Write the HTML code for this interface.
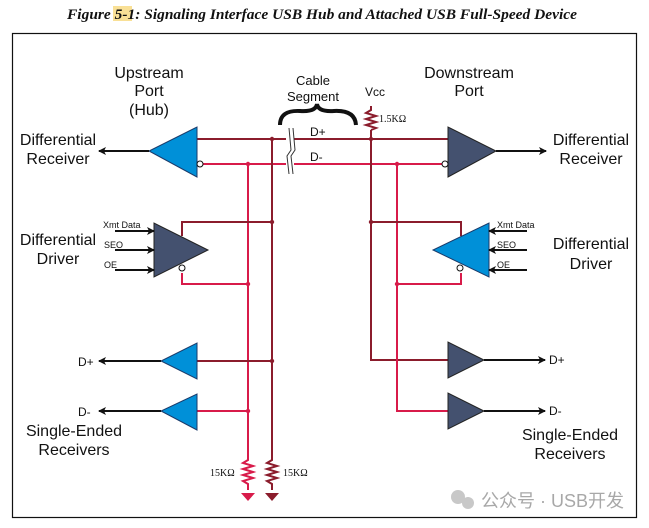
<!DOCTYPE html>
<html><head><meta charset="utf-8"><style>
html,body{margin:0;padding:0;background:#fff;}
svg{display:block;}
text{font-family:"Liberation Sans",sans-serif;fill:#111;}
</style></head><body>
<svg width="649" height="528" viewBox="0 0 649 528" xmlns="http://www.w3.org/2000/svg">
<defs>
<marker id="ah" markerWidth="8" markerHeight="8" refX="7" refY="4" orient="auto" markerUnits="userSpaceOnUse"><path d="M0,0 L8,4 L0,8 L2,4 Z" fill="#111"/></marker>
</defs>
<rect x="113" y="6" width="19" height="15" fill="#f6d36a" opacity="0.7"/>
<text x="322" y="19" text-anchor="middle" textLength="510" lengthAdjust="spacingAndGlyphs" style="font-family:'Liberation Serif',serif;font-style:italic;font-weight:bold;font-size:15px;fill:#111">Figure 5-1: Signaling Interface USB Hub and Attached USB Full-Speed Device</text>
<rect x="12.5" y="33.5" width="624" height="484" fill="none" stroke="#111" stroke-width="1.2"/>

<!-- wires -->
<g fill="none" stroke-width="2">
<path d="M197 139 H448" stroke="#8b1c2c"/>
<path d="M203 164 H443" stroke="#d81b4a"/>
<path d="M272 139 V457" stroke="#8b1c2c"/>
<path d="M248 164 V457" stroke="#d81b4a"/>
<path d="M371 130 V360 H448" stroke="#8b1c2c"/>
<path d="M397 164 V411 H448" stroke="#d81b4a"/>
<path d="M182 236 V222 H272" stroke="#8b1c2c"/>
<path d="M182 273 V284 H248" stroke="#d81b4a"/>
<path d="M461 236 V222 H371" stroke="#8b1c2c"/>
<path d="M461 273 V284 H397" stroke="#d81b4a"/>
<path d="M197 361 H272" stroke="#8b1c2c"/>
<path d="M197 411 H248" stroke="#d81b4a"/>
</g>
<!-- dots -->
<g>
<circle cx="272" cy="139" r="2.2" fill="#8b1c2c"/><circle cx="371" cy="139" r="2.2" fill="#8b1c2c"/>
<circle cx="248" cy="164" r="2.2" fill="#d81b4a"/><circle cx="397" cy="164" r="2.2" fill="#d81b4a"/>
<circle cx="272" cy="222" r="2.2" fill="#8b1c2c"/><circle cx="371" cy="222" r="2.2" fill="#8b1c2c"/>
<circle cx="248" cy="284" r="2.2" fill="#d81b4a"/><circle cx="397" cy="284" r="2.2" fill="#d81b4a"/>
<circle cx="272" cy="361" r="2.2" fill="#8b1c2c"/><circle cx="248" cy="411" r="2.2" fill="#d81b4a"/>
</g>
<!-- cable break -->
<rect x="286" y="128" width="8" height="46" fill="#fff"/>
<path d="M289 128 L291 150 L287 156 L289 174 M293 128 L295 150 L291 156 L293 174" stroke="#333" fill="none" stroke-width="1"/>
<!-- brace -->
<path d="M280 125 Q280 110 300 111 Q316 112 317 104 Q318 112 334 111 Q355 110 356 125" fill="none" stroke="#111" stroke-width="4"/>
<!-- vcc resistor -->
<path d="M371 106 L371 110 L366 113 L376 116 L366 119 L376 122 L366 125 L376 128 L371 130" fill="none" stroke="#8b1c2c" stroke-width="2"/>
<text x="365" y="96" font-size="12">Vcc</text>
<text x="379" y="122" style="font-family:'Liberation Serif',serif;font-size:10px">1.5KΩ</text>
<text x="313" y="85" font-size="13" text-anchor="middle">Cable</text>
<text x="313" y="101" font-size="13" text-anchor="middle">Segment</text>
<text x="310" y="136" font-size="12">D+</text>
<text x="310" y="161" font-size="12">D-</text>

<!-- upstream receiver -->
<polygon points="197,127 197,177 149,151" fill="#0090d8" stroke="#1a3a6a" stroke-width="1"/>
<circle cx="200" cy="164" r="3" fill="#fff" stroke="#111"/>
<line x1="149" y1="151" x2="99" y2="151" stroke="#111" stroke-width="2" marker-end="url(#ah)"/>
<!-- downstream receiver -->
<polygon points="448,127 448,177 496,151" fill="#44516f" stroke="#222" stroke-width="1"/>
<circle cx="445" cy="164" r="3" fill="#fff" stroke="#111"/>
<line x1="496" y1="151" x2="546" y2="151" stroke="#111" stroke-width="2" marker-end="url(#ah)"/>

<!-- left driver -->
<polygon points="154,223 154,277 208,250" fill="#44516f" stroke="#222" stroke-width="1"/>
<circle cx="182" cy="268" r="3" fill="#fff" stroke="#111"/>
<g stroke="#111" stroke-width="2">
<line x1="115" y1="231" x2="154" y2="231" marker-end="url(#ah)"/>
<line x1="115" y1="250" x2="154" y2="250" marker-end="url(#ah)"/>
<line x1="115" y1="270" x2="154" y2="270" marker-end="url(#ah)"/>
</g>
<text x="103" y="228" font-size="9">Xmt Data</text>
<text x="104" y="248" font-size="9">SEO</text>
<text x="104" y="268" font-size="9">OE</text>
<!-- right driver -->
<polygon points="489,223 489,277 433,250" fill="#0090d8" stroke="#1a3a6a" stroke-width="1"/>
<circle cx="460" cy="268" r="3" fill="#fff" stroke="#111"/>
<g stroke="#111" stroke-width="2">
<line x1="527" y1="231" x2="489" y2="231" marker-end="url(#ah)"/>
<line x1="527" y1="250" x2="489" y2="250" marker-end="url(#ah)"/>
<line x1="527" y1="270" x2="489" y2="270" marker-end="url(#ah)"/>
</g>
<text x="497" y="228" font-size="9">Xmt Data</text>
<text x="497" y="248" font-size="9">SEO</text>
<text x="497" y="268" font-size="9">OE</text>

<!-- single-ended left -->
<polygon points="197,343 197,379 161,361" fill="#0090d8" stroke="#1a3a6a" stroke-width="1"/>
<polygon points="197,394 197,430 161,411" fill="#0090d8" stroke="#1a3a6a" stroke-width="1"/>
<line x1="161" y1="361" x2="99" y2="361" stroke="#111" stroke-width="2" marker-end="url(#ah)"/>
<line x1="161" y1="411" x2="99" y2="411" stroke="#111" stroke-width="2" marker-end="url(#ah)"/>
<text x="78" y="366" font-size="12">D+</text>
<text x="78" y="416" font-size="12">D-</text>
<!-- single-ended right -->
<polygon points="448,342 448,378 484,360" fill="#44516f" stroke="#222" stroke-width="1"/>
<polygon points="448,393 448,429 484,411" fill="#44516f" stroke="#222" stroke-width="1"/>
<line x1="484" y1="360" x2="545" y2="360" stroke="#111" stroke-width="2" marker-end="url(#ah)"/>
<line x1="484" y1="411" x2="545" y2="411" stroke="#111" stroke-width="2" marker-end="url(#ah)"/>
<text x="549" y="364" font-size="12">D+</text>
<text x="549" y="415" font-size="12">D-</text>

<!-- pull-down resistors -->
<path d="M248 457 L248 460 L243 463 L253 466 L243 469 L253 472 L243 475 L253 478 L243 481 L248 484 L248 490" fill="none" stroke="#d81b4a" stroke-width="2"/>
<path d="M272 457 L272 460 L267 463 L277 466 L267 469 L277 472 L267 475 L277 478 L267 481 L272 484 L272 490" fill="none" stroke="#8b1c2c" stroke-width="2"/>
<polygon points="241,493 255,493 248,501" fill="#d81b4a"/>
<polygon points="265,493 279,493 272,501" fill="#8b1c2c"/>
<text x="210" y="476" style="font-family:'Liberation Serif',serif;font-size:10px">15KΩ</text>
<text x="283" y="476" style="font-family:'Liberation Serif',serif;font-size:10px">15KΩ</text>

<!-- big labels -->
<g font-size="16" text-anchor="middle">
<text x="149" y="78">Upstream</text><text x="149" y="96">Port</text><text x="149" y="115">(Hub)</text>
<text x="469" y="78">Downstream</text><text x="469" y="96">Port</text>
<text x="58" y="145">Differential</text><text x="58" y="164">Receiver</text>
<text x="591" y="145">Differential</text><text x="591" y="164">Receiver</text>
<text x="58" y="245">Differential</text><text x="58" y="264">Driver</text>
<text x="591" y="249">Differential</text><text x="591" y="269">Driver</text>
<text x="74" y="436">Single-Ended</text><text x="74" y="455">Receivers</text>
<text x="570" y="440">Single-Ended</text><text x="570" y="459">Receivers</text>
</g>
<!-- watermark -->
<circle cx="458" cy="497" r="7" fill="#c8c8c8"/><circle cx="468" cy="503" r="6" fill="#c8c8c8"/>
<text x="481" y="507" style="font-family:'Liberation Sans','Noto Sans CJK SC',sans-serif;font-size:18px;fill:#a8a8a8">公众号 · USB开发</text>
</svg>
</body></html>
